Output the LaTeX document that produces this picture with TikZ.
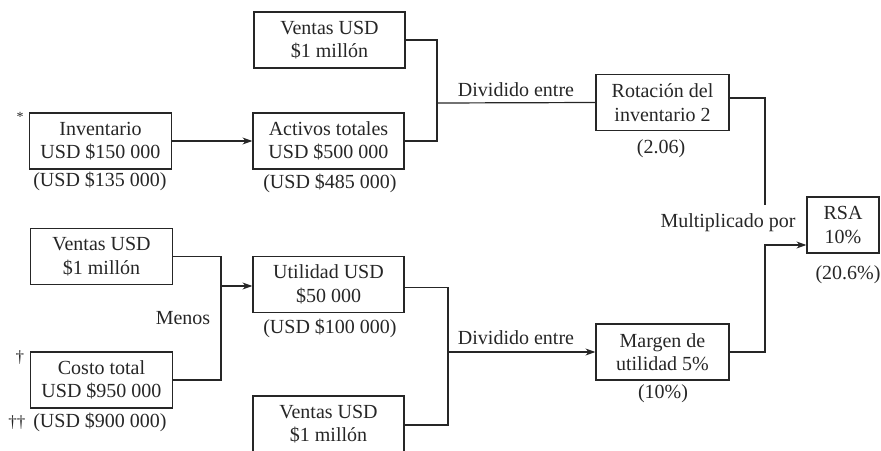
\documentclass[tikz,border=0pt]{standalone}
\usepackage{fontspec}
\setmainfont{Liberation Serif}
\usetikzlibrary{arrows.meta}
\definecolor{ink}{HTML}{262626}
\begin{document}
\begin{tikzpicture}[x=1pt,y=-1pt,
  every node/.style={text=ink,font=\fontsize{20}{23.5}\selectfont},
  box/.style={draw=ink,line width=1.2pt,align=center,inner sep=0pt,
              minimum height=56pt},
  wide/.style={box,minimum width=151pt},
  mid/.style={box,minimum width=142pt},
  narrow/.style={box,minimum width=133pt},
  link/.style={draw=ink,line width=1.2pt},
  arr/.style={link,-{Stealth[length=10pt,width=7pt]}},
  note/.style={inner sep=0pt},
  sign/.style={inner sep=0pt,font=\fontsize{17}{17}\selectfont}]
\clip (0,0) rectangle (881,450);
\useasboundingbox (0,0) rectangle (881,450);

% upper branch: inventory turnover
\node[wide]   (v1)   at (329.5,40)  {Ventas USD\\\$1 millón};
\node[mid]    (inv)  at (100.5,141) {Inventario\\USD \$150 000};
\node[wide]   (act)  at (328.5,141) {Activos totales\\USD \$500 000};
\node[narrow] (rot)  at (662.5,102.5) {Rotación del\\inventario 2};

% lower branch: profit margin
\node[mid]    (v2)   at (101.5,256.5) {Ventas USD\\\$1 millón};
\node[mid]    (cost) at (101.5,380) {Costo total\\USD \$950 000};
\node[wide]   (util) at (328.5,284.5) {Utilidad USD\\\$50 000};
\node[wide]   (v3)   at (328.5,424) {Ventas USD\\\$1 millón};
\node[narrow] (marg) at (662.5,352) {Margen de\\utilidad 5\%};

% result
\node[box,minimum width=72pt] (rsa) at (843,225) {RSA\\10\%};

% values in parentheses and footnote signs
\node[note] (p1) at (100,181) {(USD \$135 000)};
\node[note] (p2) at (330,183) {(USD \$485 000)};
\node[note] (p3) at (661,149) {(2.06)};
\node[note] (p4) at (848,275) {(20.6\%)};
\node[note] (p5) at (330,328) {(USD \$100 000)};
\node[note] (p6) at (663,394) {(10\%)};
\node[note] (p7) at (100,422) {(USD \$900 000)};
\node[sign,font=\fontsize{14}{14}\selectfont] (s1) at (20,117) {*};
\node[sign] (s2) at (20,358) {†};
\node[sign] (s3) at (17,423) {††};

% operation labels
\node[note] (d1) at (516,90)  {Dividido entre};
\node[note] (d2) at (516,338) {Dividido entre};
\node[note] (mu) at (728,223) {Multiplicado por};
\node[note] (me) at (183,318) {Menos};

% connectors
\coordinate (j1) at (437,103);
\coordinate (t1) at (765,205);
\coordinate (j2) at (221,286);
\coordinate (j3) at (448,352);

\draw[arr] (inv.east) -- (act.west);
\draw[link] (v1.east) -| (j1) |- (act.east);
\draw[link] (j1) -- (rot.west);
\draw[link] ([yshift=4.5pt]rot.east) -| (t1);
\draw[arr] (marg.east) -| (765,245) -- ([yshift=-20pt]rsa.west);

\draw[link] (v2.east) -| (j2) |- (cost.east);
\draw[arr] (j2) -- ([yshift=-1.5pt]util.west);
\draw[link] ([yshift=-3pt]util.east) -| (j3) |- ([yshift=-1pt]v3.east);
\draw[arr] (j3) -- (marg.west);
\end{tikzpicture}
\end{document}
